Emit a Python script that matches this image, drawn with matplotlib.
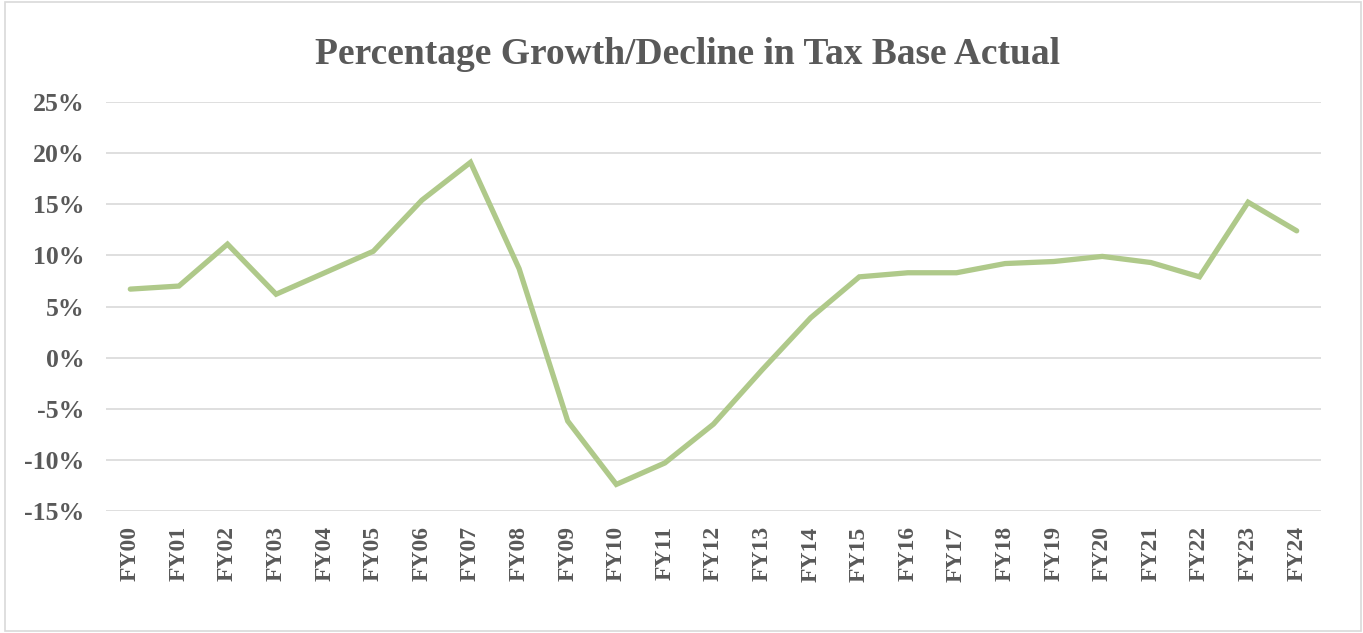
import matplotlib
matplotlib.use('Agg')
import matplotlib.pyplot as plt
import matplotlib.ticker
from matplotlib.patches import Rectangle

# Fiscal years and annual % change in tax base
years = ['FY00', 'FY01', 'FY02', 'FY03', 'FY04', 'FY05', 'FY06', 'FY07',
         'FY08', 'FY09', 'FY10', 'FY11', 'FY12', 'FY13', 'FY14', 'FY15',
         'FY16', 'FY17', 'FY18', 'FY19', 'FY20', 'FY21', 'FY22', 'FY23', 'FY24']
growth = [6.7, 7.0, 11.1, 6.2, 8.3, 10.4, 15.4, 19.1, 8.7, -6.2, -12.4, -10.3,
          -6.5, -1.2, 3.9, 7.9, 8.3, 8.3, 9.2, 9.4, 9.9, 9.3, 7.9, 15.2, 12.4]

text_color = '#595959'
line_color = '#AFC98A'
grid_color = '#D9D9D9'

plt.rcParams['font.family'] = ['Liberation Serif', 'DejaVu Serif']

fig = plt.figure(figsize=(13.63, 6.33), dpi=100)
ax = fig.add_axes([106/1363, 1 - 511/633, (1321 - 106)/1363, (511 - 102)/633])

x = range(len(years))
ax.plot(x, growth, color=line_color, lw=3.8, solid_joinstyle='miter',
        solid_capstyle='round', zorder=3)

ax.set_xlim(-0.5, len(years) - 0.5)
ax.set_ylim(-15, 25)
ax.set_yticks(range(-15, 26, 5))
ax.yaxis.set_major_formatter(matplotlib.ticker.FuncFormatter(lambda v, p: f'{v:.0f}%'))
ax.set_xticks(list(x))
ax.set_xticklabels(years, rotation=90)

ax.grid(axis='y', color=grid_color, lw=1.2, zorder=0)
for s in ax.spines.values():
    s.set_visible(False)
ax.tick_params(axis='both', length=0, colors=text_color)
ax.tick_params(axis='y', pad=15.5, labelsize=18.5)
ax.tick_params(axis='x', pad=11, labelsize=17)
for lbl in ax.get_xticklabels() + ax.get_yticklabels():
    lbl.set_fontweight('bold')

fig.text(688/1363, 1 - 54/633, 'Percentage Growth/Decline in Tax Base Actual',
         ha='center', va='center', fontsize=27, fontweight='bold', color=text_color)

# light border round the chart
fig.patches.append(Rectangle((5/1363, 2/633), 1356/1363, 629/633, transform=fig.transFigure,
                             fill=False, edgecolor=grid_color, lw=1.2))

plt.savefig('out.png', dpi=100)
